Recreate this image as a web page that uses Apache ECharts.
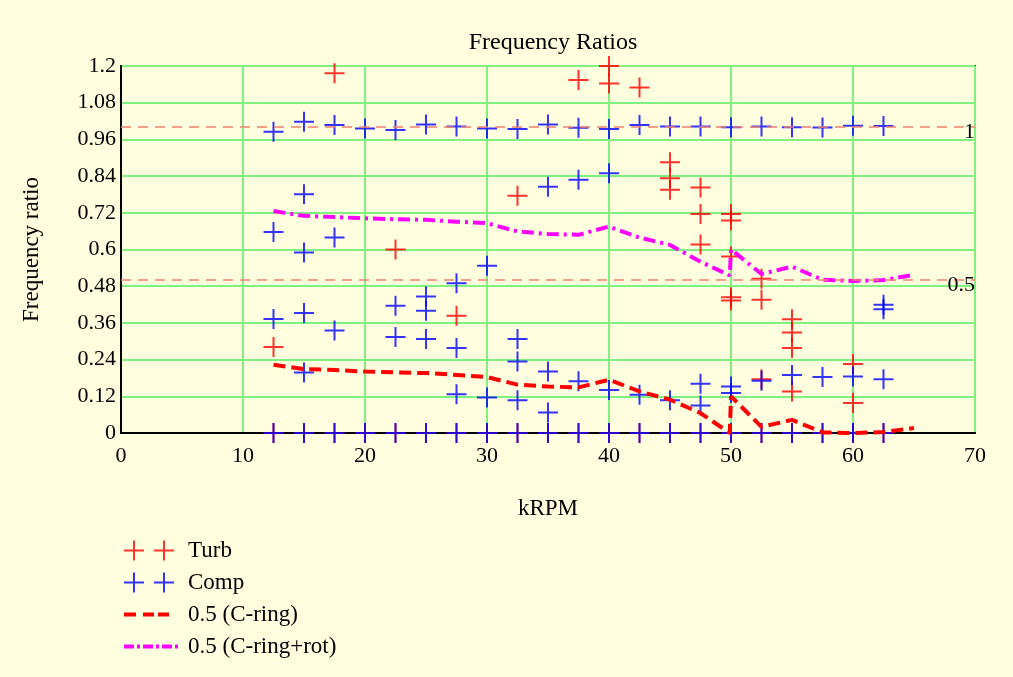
<!DOCTYPE html>
<html>
<head>
<meta charset="utf-8">
<script src="https://cdn.jsdelivr.net/npm/echarts@6/dist/echarts.min.js"></script>
<style>
html,body{margin:0;padding:0;background:#FFFFE0;}
#chart{width:1013px;height:677px;}
</style>
</head>
<body>
<div id="chart"></div>
<script>
// ---- data ----
const xTicks = [0, 10, 20, 30, 40, 50, 60, 70];
const yTicks = [0, 0.12, 0.24, 0.36, 0.48, 0.6, 0.72, 0.84, 0.96, 1.08, 1.2];
const speeds = [12.5, 15, 17.5, 20, 22.5, 25, 27.5, 30, 32.5, 35, 37.5, 40, 42.5, 45, 47.5, 50, 52.5, 55, 57.5, 60, 62.5];

const turbPoints = [
  [12.5, 0.281], [17.5, 1.176], [22.5, 0.600], [27.5, 0.383], [32.5, 0.776],
  [37.5, 1.154], [40, 1.2], [40, 1.143], [42.5, 1.13],
  [45, 0.885], [45, 0.833], [45, 0.795],
  [47.5, 0.803], [47.5, 0.716], [47.5, 0.616],
  [50, 0.716], [50, 0.695], [50, 0.577], [50, 0.444], [50, 0.433],
  [52.5, 0.504], [52.5, 0.436], [52.5, 0.176],
  [55, 0.372], [55, 0.329], [55, 0.278], [55, 0.136],
  [60, 0.226], [60, 0.098]
];
const turbZeros = [0, 0, 0, 0, 0, 0, 0, 0, 0, 0, 0, 0, 0, 0, 0, 0, 0, 0, 0, 0, 0];

const compPoints = [
  [12.5, 0.985], [12.5, 0.657], [12.5, 0.373],
  [15, 1.018], [15, 0.781], [15, 0.590], [15, 0.392], [15, 0.198],
  [17.5, 1.007], [17.5, 0.639], [17.5, 0.335],
  [20, 0.996],
  [22.5, 0.991], [22.5, 0.416], [22.5, 0.314],
  [25, 1.009], [25, 0.446], [25, 0.400], [25, 0.307],
  [27.5, 1.002], [27.5, 0.490], [27.5, 0.278], [27.5, 0.127],
  [30, 0.996], [30, 0.547], [30, 0.116],
  [32.5, 0.994], [32.5, 0.307], [32.5, 0.234], [32.5, 0.107],
  [35, 1.009], [35, 0.805], [35, 0.201], [35, 0.067],
  [37.5, 0.998], [37.5, 0.828], [37.5, 0.169],
  [40, 0.994], [40, 0.849], [40, 0.141],
  [42.5, 1.007], [42.5, 0.125],
  [45, 1.002], [45, 0.107],
  [47.5, 1.002], [47.5, 0.161], [47.5, 0.090],
  [50, 1.000], [50, 0.152], [50, 0.131],
  [52.5, 1.002], [52.5, 0.171],
  [55, 1.000], [55, 0.190],
  [57.5, 0.999], [57.5, 0.183],
  [60, 1.005], [60, 0.185],
  [62.5, 1.004], [62.5, 0.419], [62.5, 0.405], [62.5, 0.176]
];
const compZeros = [0, 0, 0, 0, 0, 0, 0, 0, 0, 0, 0, 0, 0, 0, 0, 0, 0, 0, 0, 0, 0];

const lineX = [12.5, 15, 17.5, 20, 22.5, 25, 27.5, 30, 32.5, 35, 37.5, 40, 42.5, 45, 47.5, 49.9, 50, 52.5, 55, 57.5, 60, 62.5, 65];
const cRing = [0.223, 0.209, 0.206, 0.201, 0.198, 0.196, 0.190, 0.183, 0.158, 0.152, 0.149, 0.174, 0.136, 0.109, 0.065, 0.0, 0.12, 0.02, 0.043, 0.002, 0.0, 0.003, 0.016];
const cRingRot = [0.726, 0.710, 0.706, 0.702, 0.699, 0.697, 0.691, 0.686, 0.659, 0.651, 0.648, 0.675, 0.639, 0.615, 0.560, 0.515, 0.600, 0.520, 0.544, 0.501, 0.497, 0.500, 0.517];

const refLines = [1, 0.5];
const refLabels = ['1', '0.5'];

// ---- build ----
const FONT = 'Liberation Serif';
const plus = 'path://M10,0 L10,20 M0,10 L20,10';
const box = 'M0,0 L0.01,0 M59,20 L58.99,20 ';
const plus2 = 'path://' + box + 'M10,0 L10,20 M0,10 L20,10 M40,0 L40,20 M30,10 L50,10';
const dashIcon = 'path://' + box + 'M0,8 L12,8 L12,12 L0,12 Z M19,8 L30,8 L30,12 L19,12 Z M34,8 L45,8 L45,12 L34,12 Z';
const dashDotIcon = 'path://' + box +
  'M0,8 L10,8 L10,12 L0,12 Z M13,8 L16,8 L16,12 L13,12 Z ' +
  'M19,8 L29,8 L29,12 L19,12 Z M32,8 L35,8 L35,12 L32,12 Z ' +
  'M38,8 L48,8 L48,12 L38,12 Z M51,8 L54,8 L54,12 L51,12 Z';

const turbData = turbPoints.concat(speeds.map((s, i) => [s, turbZeros[i]]));
const compData = compPoints.concat(speeds.map((s, i) => [s, compZeros[i]]));
const cRingData = lineX.map((x, i) => [x, cRing[i]]);
const cRingRotData = lineX.map((x, i) => [x, cRingRot[i]]);

const chart = echarts.init(document.getElementById('chart'), null, {renderer: 'canvas'});
chart.setOption({
  backgroundColor: '#FFFFE0',
  animation: false,
  textStyle: {fontFamily: FONT, color: '#000'},
  title: {
    text: 'Frequency Ratios', left: 548, top: 26, textAlign: 'center',
    textStyle: {fontFamily: FONT, fontSize: 24, fontWeight: 'normal', color: '#000'}
  },
  grid: {left: 121, right: 38, top: 66, bottom: 244, show: true, borderColor: '#000', borderWidth: 2, backgroundColor: 'transparent'},
  xAxis: {
    type: 'value', min: xTicks[0], max: xTicks[xTicks.length - 1], interval: 10,
    name: 'kRPM', nameLocation: 'middle', nameGap: 64,
    nameTextStyle: {fontFamily: FONT, fontSize: 23, color: '#000'},
    axisLine: {show: true, lineStyle: {color: '#000', width: 2}},
    axisTick: {show: false},
    axisLabel: {fontFamily: FONT, fontSize: 22, color: '#000', margin: 12},
    splitLine: {show: true, lineStyle: {color: '#80F080', width: 2}}
  },
  yAxis: {
    type: 'value', min: 0, max: yTicks[yTicks.length - 1], interval: 0.12,
    name: 'Frequency ratio', nameLocation: 'middle', nameGap: 78, nameRotate: 90,
    nameTextStyle: {fontFamily: FONT, fontSize: 23, color: '#000'},
    axisLine: {show: true, lineStyle: {color: '#000', width: 2}},
    axisTick: {show: false},
    axisLabel: {fontFamily: FONT, fontSize: 22, color: '#000', margin: 5,
      formatter: v => String(+v.toFixed(2))},
    splitLine: {show: true, lineStyle: {color: '#80F080', width: 2}}
  },
  legend: {
    orient: 'vertical', left: 118, top: 534, itemGap: 9,
    itemWidth: 59, itemHeight: 20,
    textStyle: {fontFamily: FONT, fontSize: 23, color: '#000'},
    data: [
      {name: 'Turb', icon: plus2, itemStyle: {color: 'transparent', borderColor: '#FF0000', borderWidth: 2}},
      {name: 'Comp', icon: plus2, itemStyle: {color: 'transparent', borderColor: '#0000FF', borderWidth: 2}},
      {name: '0.5 (C-ring)', icon: dashIcon, itemStyle: {color: '#FF0000', borderWidth: 0}},
      {name: '0.5 (C-ring+rot)', icon: dashDotIcon, itemStyle: {color: '#FF00FF', borderWidth: 0}}
    ]
  },
  series: [
    {
      name: 'Turb', type: 'scatter', data: turbData, symbol: plus, symbolSize: 20, clip: true,
      itemStyle: {color: 'transparent', borderColor: '#FF0000', borderWidth: 2}, z: 2,
      markLine: {
        silent: true, symbol: ['none', 'none'],
        lineStyle: {color: '#F08070', type: [10, 7], width: 1.5},
        label: {show: true, position: 'insideEndBottom', distance: [0, -6], fontFamily: FONT, fontSize: 22, color: '#000',
          formatter: p => refLabels[refLines.indexOf(p.value)]},
        data: refLines.map(v => ({yAxis: v}))
      }
    },
    {
      name: 'Comp', type: 'scatter', data: compData, symbol: plus, symbolSize: 20, clip: true,
      itemStyle: {color: 'transparent', borderColor: '#0000FF', borderWidth: 2}, z: 3
    },
    {
      name: '0.5 (C-ring)', type: 'line', data: cRingData, symbol: 'none', z: 4,
      lineStyle: {color: '#FF0000', width: 4, type: [12, 6]}, itemStyle: {color: '#FF0000'}
    },
    {
      name: '0.5 (C-ring+rot)', type: 'line', data: cRingRotData, symbol: 'none', z: 4,
      lineStyle: {color: '#FF00FF', width: 4, type: [12, 5, 3, 5]}, itemStyle: {color: '#FF00FF'}
    }
  ]
});
</script>
</body>
</html>
